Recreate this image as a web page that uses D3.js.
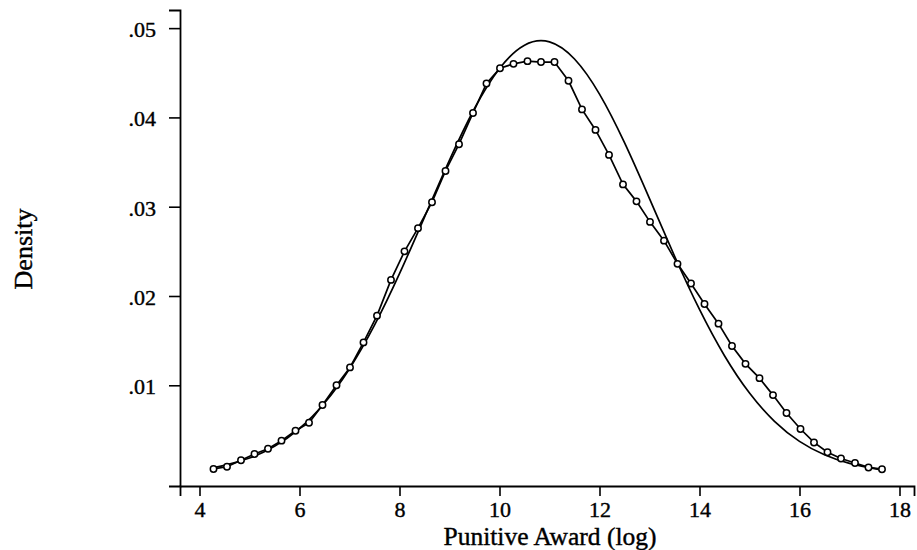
<!DOCTYPE html>
<html>
<script src='https://d3js.org/d3.v7.min.js'></script>
<style>
body { margin: 0; background: white; }
svg { font-family: "Liberation Serif", "DejaVu Serif", serif; }
</style>
<body onload='init()'>
<svg width=917 height=550></svg>
<script>
// kernel density points (log punitive award, density)
var kdX = [4.28, 4.55, 4.83, 5.10, 5.37, 5.64, 5.92, 6.19, 6.46, 6.74,
           7.01, 7.28, 7.55, 7.83, 8.10, 8.37, 8.65, 8.92, 9.19, 9.47,
           9.74, 10.01, 10.28, 10.56, 10.83, 11.10, 11.38, 11.65, 11.92, 12.19,
           12.47, 12.74, 13.01, 13.29, 13.56, 13.83, 14.10, 14.38, 14.65, 14.92,
           15.20, 15.47, 15.74, 16.02, 16.29, 16.56, 16.83, 17.11, 17.38, 17.65];
var kdY = [0.00063, 0.00088, 0.0016, 0.0023, 0.0029, 0.0038, 0.0049, 0.0058, 0.0078, 0.0100,
           0.0120, 0.0148, 0.0178, 0.0218, 0.0250, 0.0276, 0.0305, 0.0340, 0.0370, 0.0405,
           0.0438, 0.0455, 0.0460, 0.0463, 0.0462, 0.0462, 0.0441, 0.0409, 0.0386, 0.0358,
           0.0325, 0.0306, 0.0283, 0.0262, 0.0236, 0.0214, 0.0191, 0.0169, 0.0144, 0.0124,
           0.0108, 0.0089, 0.0069, 0.0051, 0.0036, 0.0025, 0.0018, 0.0013, 0.0008, 0.0006];

// normal density overlay
var nrmX = [4.28, 4.5, 5, 5.5, 6, 6.5, 7, 7.5, 8, 8.5, 9, 9.5, 10, 10.5, 11,
            11.5, 12, 12.5, 13, 13.5, 14, 14.5, 15, 15.5, 16, 16.5, 17, 17.5, 17.65];
var nrmY = [0.00078, 0.00103, 0.00185, 0.00316, 0.00516, 0.00801, 0.01186, 0.01673, 0.02250,
            0.02884, 0.03522, 0.04100, 0.04548, 0.04809, 0.04846, 0.04654, 0.04261,
            0.03717, 0.03090, 0.02448, 0.01849, 0.01331, 0.00913, 0.00597, 0.00372, 0.00221,
            0.00125, 0.00067, 0.00056];

var xTicks = [4, 6, 8, 10, 12, 14, 16, 18];
var yTicks = [0.01, 0.02, 0.03, 0.04, 0.05];

function init() {
  var svg = d3.select("svg");

  var x = d3.scaleLinear().domain([3.61, 18.29]).range([180, 914]);
  var y = d3.scaleLinear().domain([-0.00128, 0.05203]).range([486, 10]);

  var kd = kdX.map(function(d, i) { return [d, kdY[i]]; });
  var nrm = nrmX.map(function(d, i) { return [d, nrmY[i]]; });

  // y axis
  var yAxis = svg.append("g")
    .attr("transform", "translate(180,0)")
    .call(d3.axisLeft(y).tickValues(yTicks).tickSize(11).tickPadding(13)
      .tickFormat(function(d) { return d3.format(".2f")(d).replace(/^0/, ""); }));

  // x axis
  var xAxis = svg.append("g")
    .attr("transform", "translate(0,486)")
    .call(d3.axisBottom(x).tickValues(xTicks).tickSize(10).tickPadding(5));

  [yAxis, xAxis].forEach(function(a) {
    a.select(".domain").attr("stroke", "black").attr("stroke-width", 1.8);
    a.selectAll(".tick line").attr("stroke", "black").attr("stroke-width", 1.6);
    a.selectAll(".tick text")
      .attr("fill", "black")
      .attr("stroke", "black")
      .attr("stroke-width", 0.4)
      .style("font-family", "'Liberation Serif', serif")
      .style("font-size", "22px");
  });
  yAxis.selectAll(".tick text").attr("dy", "0.38em");

  // normal curve
  svg.append("path")
    .datum(nrm)
    .attr("fill", "none")
    .attr("stroke", "black")
    .attr("stroke-width", 1.7)
    .attr("d", d3.line().x(function(d) { return x(d[0]); }).y(function(d) { return y(d[1]); })
      .curve(d3.curveNatural));

  // kernel density line
  svg.append("path")
    .datum(kd)
    .attr("fill", "none")
    .attr("stroke", "black")
    .attr("stroke-width", 1.7)
    .attr("d", d3.line().x(function(d) { return x(d[0]); }).y(function(d) { return y(d[1]); }));

  // kernel density markers
  svg.append("g").selectAll("circle")
    .data(kd).enter().append("circle")
    .attr("cx", function(d) { return x(d[0]); })
    .attr("cy", function(d) { return y(d[1]); })
    .attr("r", 3.2)
    .attr("fill", "white")
    .attr("stroke", "black")
    .attr("stroke-width", 1.5);

  // axis titles
  svg.append("text")
    .attr("x", 550)
    .attr("y", 545)
    .attr("text-anchor", "middle")
    .attr("stroke", "black")
    .attr("stroke-width", 0.4)
    .style("font-size", "25.5px")
    .text("Punitive Award (log)");

  svg.append("text")
    .attr("transform", "translate(32,249) rotate(-90)")
    .attr("text-anchor", "middle")
    .attr("stroke", "black")
    .attr("stroke-width", 0.4)
    .style("font-size", "26px")
    .text("Density");
}
</script>
</body>
</html>
